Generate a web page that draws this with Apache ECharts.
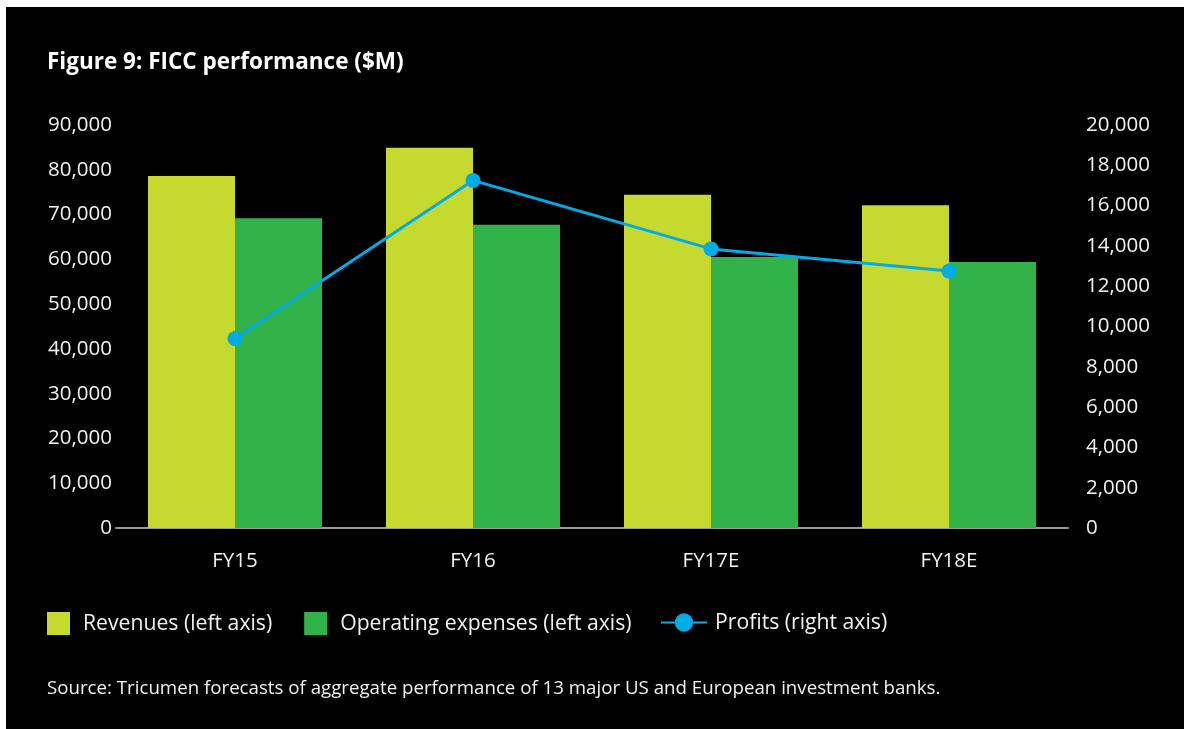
<!DOCTYPE html>
<html>
<head>
<meta charset="utf-8">
<script src="https://cdn.jsdelivr.net/npm/echarts@6/dist/echarts.min.js"></script>
<style>
    html, body { margin: 0; padding: 0; background: #ffffff; }
    #chart { position: absolute; left: 6px; top: 7px; width: 1178px; height: 722px; background: #000000; }
</style>
</head>
<body>
<div id="chart"></div>
<script>
var categories = ['FY15', 'FY16', 'FY17E', 'FY18E'];
var revenues = [78600, 84900, 74400, 72100];
var opex = [69200, 67700, 60500, 59400];
var profits = [9400, 17250, 13850, 12750];

var font = '"Open Sans", "Noto Sans", sans-serif';
var white = '#f2f2f2';

var myChart = echarts.init(document.getElementById('chart'));

option = {
    backgroundColor: '#000000',
    textStyle: { fontFamily: font },
    title: {
        text: 'Figure 9: FICC performance ($M)',
        left: 41,
        top: 44,
        padding: 0,
        textStyle: { color: '#ffffff', fontSize: 22.5, fontWeight: 'bold', fontFamily: font }
    },
    legend: [{
        left: 41,
        top: 605,
        padding: 0,
        itemWidth: 23,
        itemHeight: 23,
        itemGap: 32,
        icon: 'rect',
        data: ['Revenues (left axis)', 'Operating expenses (left axis)'],
        textStyle: { color: white, fontSize: 21.2, fontFamily: font, padding: [0, 0, 0, 8] }
    }, {
        left: 654,
        top: 605,
        padding: 0,
        itemWidth: 46,
        itemHeight: 23,
        data: ['Profits (right axis)'],
        textStyle: { color: white, fontSize: 21.2, fontFamily: font, padding: [0, 0, 0, 3] }
    }],
    graphic: [{
        type: 'text',
        left: 41,
        top: 672,
        style: {
            text: 'Source: Tricumen forecasts of aggregate performance of 13 major US and European investment banks.',
            fill: white,
            font: '18.7px ' + font
        }
    }],
    grid: {
        left: 110,
        right: 116,
        top: 118,
        bottom: 201
    },
    xAxis: {
        type: 'category',
        data: categories,
        axisLine: { lineStyle: { color: '#9a9a9a', width: 2 } },
        axisTick: { show: false },
        axisLabel: { color: white, fontSize: 20.5, margin: 23 }
    },
    yAxis: [{
        type: 'value',
        min: 0,
        max: 90000,
        interval: 10000,
        splitLine: { show: false },
        axisLine: { show: false },
        axisTick: { show: false },
        axisLabel: {
            color: white, fontSize: 20.5, margin: 4,
            formatter: function (v) { return v.toLocaleString('en-US'); }
        }
    }, {
        type: 'value',
        min: 0,
        max: 20000,
        interval: 2000,
        splitLine: { show: false },
        axisLine: { show: false },
        axisTick: { show: false },
        axisLabel: {
            color: white, fontSize: 20.5, margin: 18,
            formatter: function (v) { return v.toLocaleString('en-US'); }
        }
    }],
    series: [{
        name: 'Revenues (left axis)',
        type: 'bar',
        data: revenues,
        barWidth: 87,
        barGap: '0%',
        itemStyle: { color: '#c5d92e' }
    }, {
        name: 'Operating expenses (left axis)',
        type: 'bar',
        data: opex,
        barWidth: 87,
        barGap: '0%',
        itemStyle: { color: '#31b34a' }
    }, {
        name: 'Profits (right axis)',
        type: 'line',
        yAxisIndex: 1,
        data: profits,
        symbol: 'circle',
        symbolSize: 15,
        lineStyle: { color: '#00abe6', width: 3 },
        itemStyle: { color: '#00abe6' },
        z: 5
    }]
};

myChart.setOption(option);
</script>
</body>
</html>
